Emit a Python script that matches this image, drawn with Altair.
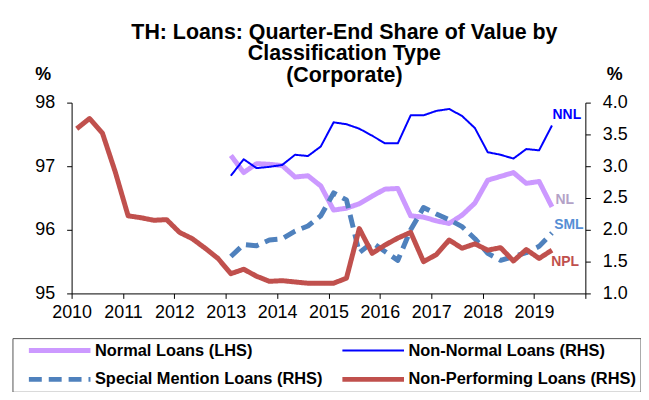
import altair as alt
import pandas as pd

# ---------------- data ----------------
quarters = [f"{y}Q{q}" for y in range(2010, 2020) for q in range(1, 5)][:38]

series_names = [
    "Normal Loans (LHS)",
    "Non-Normal Loans (RHS)",
    "Special Mention Loans (RHS)",
    "Non-Performing Loans (RHS)",
]
series_colors = ["#cc99ff", "#0000ff", "#4f81bd", "#c0504d"]

# Non-performing loans (RHS, %) 2010Q1 - 2019Q2
npl = [3.59, 3.75, 3.52, 2.91, 2.22, 2.19, 2.15, 2.16, 1.96, 1.86,
       1.71, 1.55, 1.31, 1.38, 1.27, 1.19, 1.20, 1.18, 1.16, 1.16,
       1.16, 1.24, 2.02, 1.63, 1.76, 1.87, 1.96, 1.50, 1.61, 1.84,
       1.71, 1.78, 1.68, 1.72, 1.51, 1.69, 1.55, 1.68]

# Series starting 2013Q1
start_q = "2013Q1"
nl = [97.17, 96.90, 97.04, 97.03, 97.01, 96.83, 96.85, 96.69, 96.31, 96.34,
      96.41, 96.53, 96.64, 96.65, 96.22, 96.20, 96.14, 96.10, 96.23, 96.42,
      96.78, 96.84, 96.90, 96.73, 96.76, 96.36]
nnl = [2.85, 3.11, 2.97, 2.99, 3.02, 3.18, 3.16, 3.31, 3.69, 3.66,
       3.59, 3.48, 3.36, 3.36, 3.80, 3.80, 3.87, 3.90, 3.79, 3.60,
       3.22, 3.18, 3.12, 3.27, 3.25, 3.64]
sml = [1.58, 1.77, 1.75, 1.84, 1.86, 1.98, 2.06, 2.22, 2.58, 2.47,
       1.64, 1.80, 1.66, 1.52, 2.00, 2.35, 2.25, 2.16, 2.05, 1.86,
       1.63, 1.52, 1.58, 1.64, 1.74, 1.95]

# end-of-line labels
label_text = ["NNL", "NL", "SML", "NPL"]
label_t = [2019.64, 2019.6, 2019.68, 2019.605]
label_v = [3.81, 2.47, 2.08, 1.50]
label_colors = ["#0000ff", "#b3a2c7", "#558ed5", "#c0504d"]

title_lines = ["TH: Loans: Quarter-End Share of Value by",
               "Classification Type", "(Corporate)"]


def q_pos(q):
    y, n = int(q[:4]), int(q[-1])
    return y + 0.1 + (n - 1) * 0.25


t_all = [q_pos(q) for q in quarters]
i0 = quarters.index(start_q)
t_sub = t_all[i0:]

nl_df = pd.DataFrame({"t": t_sub, "value": nl, "series": series_names[0]})
rhs_df = pd.concat([
    pd.DataFrame({"t": t_sub, "value": nnl, "series": series_names[1]}),
    pd.DataFrame({"t": t_sub, "value": sml, "series": series_names[2]}),
    pd.DataFrame({"t": t_all, "value": npl, "series": series_names[3]}),
], ignore_index=True)
lab_df = pd.DataFrame({"t": label_t, "value": label_v, "label": label_text})

FONT = "Liberation Sans"

legend = alt.Legend(
    title=None, orient="none", legendX=-59.5, legendY=237,
    direction="horizontal", columns=2, symbolType="stroke", symbolSize=3844,
    symbolOffset=10, labelOffset=2, columnPadding=6.5, rowPadding=12,
    clipHeight=17, padding=4, strokeColor="#555555", fillColor="white",
    labelFont=FONT, labelFontSize=16.5, labelFontWeight="bold",
    labelColor="black", labelLimit=400,
)

color = alt.Color("series:N", scale=alt.Scale(domain=series_names, range=series_colors),
                  legend=legend)
dash = alt.StrokeDash("series:N",
                      scale=alt.Scale(domain=series_names,
                                      range=[[1, 0], [1, 0], [13, 7], [1, 0]]),
                      legend=legend)
width = alt.StrokeWidth("series:N",
                        scale=alt.Scale(type="ordinal", domain=series_names,
                                        range=[5, 2, 5, 5]),
                        legend=legend)

x_enc = alt.X(
    "t:Q",
    scale=alt.Scale(domain=[2010, 2020], nice=False, zero=False),
    axis=alt.Axis(values=list(range(2010, 2021)), format="d",
                  labelExpr="datum.value == 2020 ? '' : datum.label",
                  title=None, grid=False, tickSize=5, labelPadding=5,
                  labelFlush=False, labelOverlap=False),
)

left_axis = alt.Axis(values=[95, 96, 97, 98], format="d", title="%",
                     titleAngle=0, titleX=-29, titleY=-23, titleAlign="center",
                     titleBaseline="alphabetic", grid=False, tickSize=5,
                     labelPadding=12, labelFlush=False)
right_axis = alt.Axis(values=[1.0, 1.5, 2.0, 2.5, 3.0, 3.5, 4.0], format=".1f",
                      orient="right", title="%", titleAngle=0, titleX=29,
                      titleY=-23, titleAlign="center", titleBaseline="alphabetic",
                      grid=False, tickSize=5, labelPadding=12, labelFlush=False)

nl_layer = alt.Chart(nl_df).mark_line(strokeJoin="round").encode(
    x=x_enc,
    y=alt.Y("value:Q", scale=alt.Scale(domain=[95, 98], nice=False, zero=False),
            axis=left_axis),
    color=color, strokeDash=dash, strokeWidth=width,
)

rhs_y = alt.Y("value:Q", scale=alt.Scale(domain=[1, 4], nice=False, zero=False),
              axis=right_axis)

rhs_lines = alt.Chart(rhs_df).mark_line(strokeJoin="round").encode(
    x=x_enc, y=rhs_y, color=color, strokeDash=dash, strokeWidth=width,
    order=alt.Order("t:Q"),
)

text_layers = []
for name, col in zip(label_text, label_colors):
    text_layers.append(
        alt.Chart(lab_df).transform_filter(alt.datum.label == name)
        .mark_text(font=FONT, fontSize=14, fontWeight="bold", color=col,
                   align="center", baseline="middle")
        .encode(x=x_enc, y=rhs_y, text="label:N")
    )

rhs_layer = alt.layer(rhs_lines, *text_layers)

chart = alt.layer(nl_layer, rhs_layer).resolve_scale(y="independent").properties(
    width=517, height=192,
    title=alt.TitleParams(text=title_lines, font=FONT, fontSize=21.5,
                          fontWeight="bold", color="black", anchor="middle",
                          dx=16, dy=62, offset=19, lineHeight=22, baseline="bottom"),
    autosize=alt.AutoSizeParams(type="none"),
    padding={"left": 64, "top": 94, "right": 56, "bottom": 98},
    background="white",
).configure_view(stroke=None).configure_axis(
    labelFont=FONT, labelFontSize=18, labelColor="black",
    titleFont=FONT, titleFontSize=18, titleFontWeight="bold", titleColor="black",
    domainColor="black", tickColor="black", domainWidth=1, tickWidth=1,
)

chart.save("out.html", embed_options={"renderer": "svg", "actions": False})
